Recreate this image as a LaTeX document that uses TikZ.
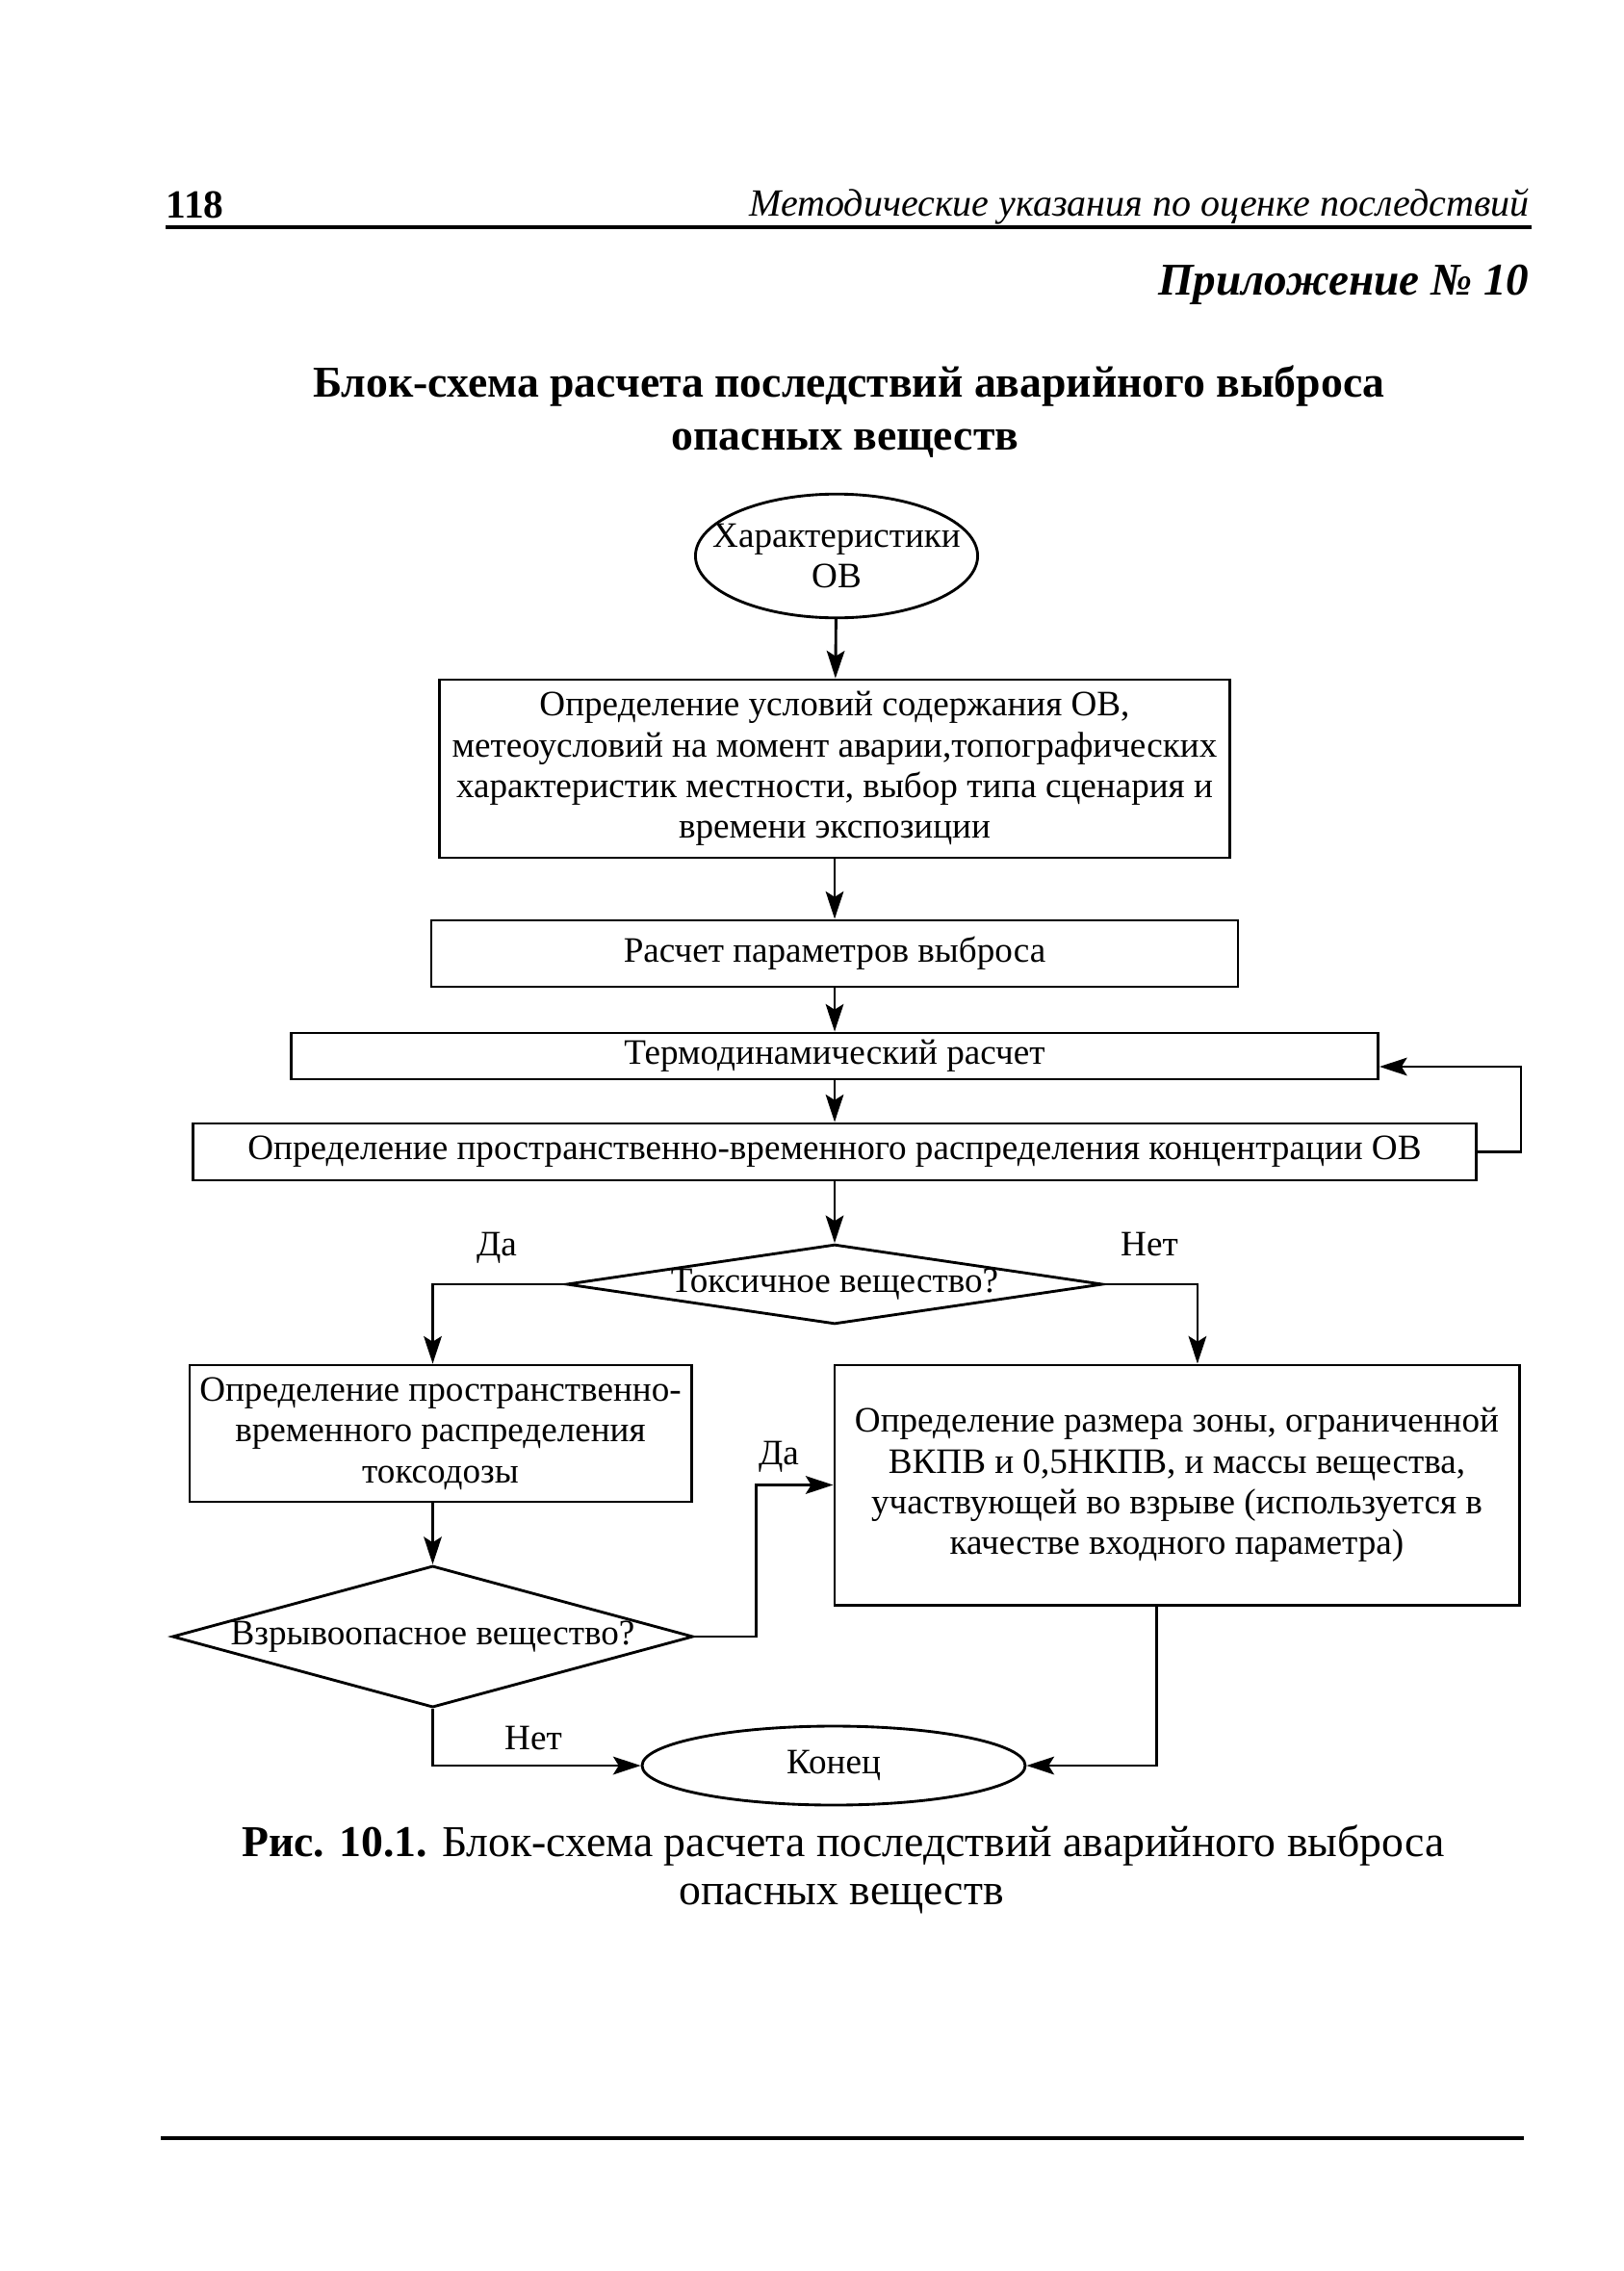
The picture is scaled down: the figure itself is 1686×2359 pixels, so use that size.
\documentclass[tikz,border=0pt]{standalone}
\usepackage{fontspec}
\setmainfont{Liberation Serif}
\usepackage{tikz}
\usetikzlibrary{shapes.geometric, arrows.meta}
\usetikzlibrary{positioning}
\tikzstyle{block} = [rectangle, draw=black, line width=1pt, align=center, inner sep=0pt, font=\fontsize{13}{14.8}\selectfont]
\tikzstyle{terminal} = [ellipse, draw=black, line width=1pt, align=center, inner sep=0pt, font=\fontsize{13}{14.8}\selectfont]
\tikzstyle{decision} = [diamond, draw=black, line width=1pt, inner ysep=0pt, inner xsep=-10pt, font=\fontsize{13}{14.8}\selectfont]
\tikzstyle{answer} = [font=\fontsize{13}{14.8}\selectfont]
\tikzstyle{arrow} = [line width=1pt, ->, >={Stealth[length=10pt, width=6.5pt, inset=2pt]}]
\tikzstyle{pagerule} = [line width=1.5pt]

\begin{document}
\begin{tikzpicture}[x=0.35pt, y=-0.35pt]
    \useasboundingbox (0,0) rectangle (1686,2359);
    % page head
    \node (pagenum) [anchor=base west, inner sep=0pt, font=\fontsize{14.5}{17}\selectfont\bfseries] at (172,226) {118};
    \node (runhead) [anchor=base east, inner sep=0pt, font=\fontsize{14}{17}\selectfont\itshape] at (1589,224) {Методические указания по оценке последствий};
    \coordinate (headL) at (172,236);
    \coordinate (headR) at (1591,236);
    \draw [pagerule] (headL) -- (headR);
    \node (appendix) [anchor=base east, inner sep=0pt, font=\fontsize{16.5}{20}\selectfont\bfseries\itshape] at (1589,306) {Приложение № 10};
    \node (title1) [anchor=base, inner sep=0pt, font=\fontsize{16}{19}\selectfont\bfseries] at (882,412) {Блок-схема расчета последствий аварийного выброса};
    \node (title2) [anchor=base, inner sep=0pt, font=\fontsize{16}{19}\selectfont\bfseries] at (878,467) {опасных веществ};

    % flowchart
    \node (start) [terminal, minimum width=102.6pt, minimum height=45pt, inner xsep=-13pt] at (869,577.5) {Характеристики\\ОВ};
    \node (cond) [block, minimum width=287.4pt, minimum height=64.75pt] at (867,798.5) {Определение условий содержания ОВ,\\метеоусловий на момент аварии,топографических\\ характеристик местности, выбор типа сценария и\\времени экспозиции};
    \node (rel) [block, minimum width=293.3pt, minimum height=24.15pt] at (867,990.5) {Расчет параметров выброса};
    \node (thermo) [block, minimum width=395.2pt, minimum height=16.8pt] at (867,1097) {Термодинамический расчет};
    \node (conc) [block, minimum width=466.6pt, minimum height=20.65pt] at (867,1196.5) {Определение пространственно-временного распределения концентрации ОВ};
    \node (toxic) [decision, minimum width=195pt, minimum height=29pt, aspect=6.7] at (867,1334) {Токсичное вещество?};
    \node (toxdose) [block, minimum width=182.4pt, minimum height=49.7pt] at (457.5,1489) {Определение пространственно-\\временного распределения\\токсодозы};
    \node (zone) [block, minimum width=248.9pt, minimum height=87.2pt] at (1222.5,1542.5) {Определение размера зоны, ограниченной\\ВКПВ и 0,5НКПВ, и массы вещества,\\участвующей во взрыве (используется в\\качестве входного параметра)};
    \node (explo) [decision, minimum width=189.4pt, minimum height=51.5pt, aspect=3.67] at (449.5,1700) {Взрывоопасное вещество?};
    \node (end) [terminal, minimum width=139.3pt, minimum height=28.7pt] at (866,1834) {Конец};

    \node (yes1) [answer] at (516,1296) {Да};
    \node (no1) [answer] at (1194,1293) {Нет};
    \node (yes2) [answer] at (809,1513) {Да};
    \node (no2) [answer] at (554,1805) {Нет};

    \draw [arrow] (start) -- (cond);
    \draw [arrow] (cond) -- (rel);
    \draw [arrow] (rel) -- (thermo);
    \draw [arrow] (thermo) -- (conc);
    \draw [arrow] (conc.east) -- ++(45,0) |- ([yshift=-3.85pt]thermo.east);
    \draw [arrow] (conc) -- (toxic);
    \draw [arrow] (toxic.west) -| ([xshift=-2.8pt]toxdose.north);
    \draw [arrow] (toxic.east) -| ([xshift=7.5pt]zone.north);
    \draw [arrow] (toxdose.south -| explo.north) -- (explo.north);
    \draw [arrow] (explo.east) -- ++(64,0) |- (zone.west);
    \draw [arrow] (explo.south) |- (end.west);
    \draw [arrow] ([xshift=-7.5pt]zone.south) |- (end.east);

    % caption and page foot
    \node (caption1) [anchor=base, inner sep=0pt, font=\fontsize{16}{19}\selectfont] at (876,1928) {\textbf{Рис. 10.1.} Блок-схема расчета последствий аварийного выброса};
    \node (caption2) [anchor=base, inner sep=0pt, font=\fontsize{16}{19}\selectfont] at (874,1978) {опасных веществ};
    \coordinate (footL) at (167,2221);
    \coordinate (footR) at (1583,2221);
    \draw [pagerule] (footL) -- (footR);
\end{tikzpicture}
\end{document}
